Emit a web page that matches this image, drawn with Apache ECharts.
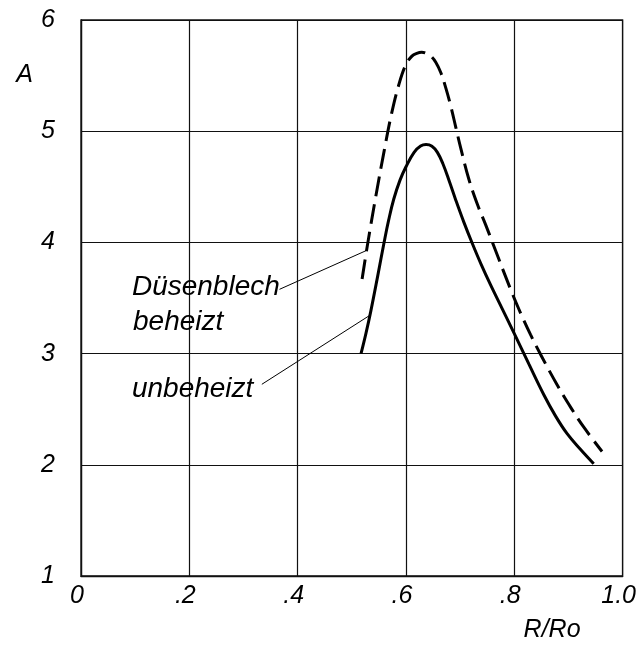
<!DOCTYPE html>
<html>
<head>
<meta charset="utf-8">
<script src="https://cdn.jsdelivr.net/npm/echarts@6/dist/echarts.min.js"></script>
<style>
  html, body { margin: 0; padding: 0; background: #fff; }
  #chart { width: 639px; height: 646px; }
</style>
</head>
<body>
<div id="chart"></div>
<script>
// Amplification A over relative radius R/Ro, with and without a heated nozzle plate
const xTickLabels = ['0', '.2', '.4', '.6', '.8', '1.0'];
const yTickLabels = ['1', '2', '3', '4', '5', '6'];

// heated nozzle plate (dashed)
const beheiztX = [0.519, 0.529, 0.5445, 0.560, 0.5735, 0.5875, 0.600, 0.611, 0.620, 0.629, 0.638, 0.646, 0.655, 0.664, 0.6735, 0.683, 0.692, 0.701, 0.716, 0.732, 0.747, 0.762, 0.793, 0.812, 0.830, 0.851, 0.879, 0.905, 0.928, 0.962];
const beheiztY = [3.67, 3.98, 4.42, 4.83, 5.16, 5.43, 5.60, 5.675, 5.70, 5.71, 5.70, 5.675, 5.62, 5.53, 5.39, 5.22, 5.035, 4.85, 4.57, 4.34, 4.16, 3.97, 3.58, 3.36, 3.17, 2.97, 2.72, 2.51, 2.34, 2.12];

// unheated (solid)
const unbeheiztX = [0.517, 0.526, 0.535, 0.5475, 0.560, 0.568, 0.5775, 0.589, 0.600, 0.615, 0.627, 0.637, 0.648, 0.658, 0.668, 0.680, 0.692, 0.707, 0.7225, 0.739, 0.756, 0.778, 0.800, 0.827, 0.8545, 0.876, 0.8975, 0.922, 0.9466];
const unbeheiztY = [3.00, 3.18, 3.38, 3.69, 4.01, 4.20, 4.39, 4.56, 4.68, 4.81, 4.866, 4.88, 4.865, 4.81, 4.71, 4.55, 4.38, 4.18, 3.99, 3.80, 3.62, 3.40, 3.18, 2.905, 2.63, 2.44, 2.28, 2.14, 2.01];

// annotation texts and their leader lines (data units)
const noteTexts = ['Düsenblech', 'beheizt', 'unbeheizt'];
const noteX = [0.094, 0.096, 0.094];
const noteY = [3.60, 3.285, 2.68];
const leaderBeheizt = [[0.3665, 3.578], [0.526, 3.925]];
const leaderUnbeheizt = [[0.3339, 2.724], [0.5335, 3.345]];

const zip = (xs, ys) => xs.map((x, i) => [x, ys[i]]);
const FONT = 'Liberation Sans';
const INK = '#000';

const chart = echarts.init(document.getElementById('chart'), null, { renderer: 'canvas' });
chart.setOption({
  backgroundColor: '#ffffff',
  animation: false,
  grid: { left: 81, right: 15, top: 20, bottom: 70, show: true, borderColor: '#111', borderWidth: 1.3 },
  xAxis: {
    type: 'value', min: 0, max: 1, interval: 0.2,
    name: 'R/Ro', nameLocation: 'end', nameGap: -99,
    nameTextStyle: { fontFamily: FONT, fontStyle: 'italic', fontSize: 25, color: INK, align: 'left', verticalAlign: 'top', padding: [42, 0, 0, 0] },
    axisLine: { show: true, lineStyle: { color: '#111', width: 1.3 } },
    axisTick: { show: false },
    splitLine: { show: true, lineStyle: { color: '#111', width: 1.2 } },
    axisLabel: {
      margin: 8, fontFamily: FONT, fontStyle: 'italic', fontSize: 25, color: INK,
      padding: [0, 8, 0, 0],
      formatter: v => xTickLabels[Math.round(v / 0.2)]
    }
  },
  yAxis: {
    type: 'value', min: 1, max: 6, interval: 1,
    name: 'A', nameLocation: 'end', nameGap: -55,
    nameTextStyle: { fontFamily: FONT, fontStyle: 'italic', fontSize: 25, color: INK, align: 'right', verticalAlign: 'middle', padding: [0, 48, 0, 0] },
    axisLine: { show: true, lineStyle: { color: '#111', width: 1.3 } },
    axisTick: { show: false },
    splitLine: { show: true, lineStyle: { color: '#111', width: 1.2 } },
    axisLabel: {
      margin: 26, fontFamily: FONT, fontStyle: 'italic', fontSize: 25, color: INK,
      formatter: v => yTickLabels[Math.round(v) - 1]
    }
  },
  series: [
    {
      name: 'beheizt', type: 'line', data: zip(beheiztX, beheiztY),
      smooth: 0.4, showSymbol: false, symbol: 'none',
      lineStyle: { color: INK, width: 3, type: [20, 8] }
    },
    {
      name: 'unbeheizt', type: 'line', data: zip(unbeheiztX, unbeheiztY),
      smooth: 0.4, showSymbol: false, symbol: 'none',
      lineStyle: { color: INK, width: 3 }
    },
    {
      name: 'leader-beheizt', type: 'line', data: leaderBeheizt,
      showSymbol: false, symbol: 'none', lineStyle: { color: INK, width: 1 }
    },
    {
      name: 'leader-unbeheizt', type: 'line', data: leaderUnbeheizt,
      showSymbol: false, symbol: 'none', lineStyle: { color: INK, width: 1 }
    },
    {
      name: 'notes', type: 'scatter', symbolSize: 0, silent: true,
      itemStyle: { opacity: 1, color: INK },
      data: noteTexts.map((t, i) => ({ value: [noteX[i], noteY[i]], name: t })),
      label: {
        show: true, position: 'inside', align: 'left', verticalAlign: 'middle',
        formatter: p => p.name, opacity: 1,
        fontFamily: FONT, fontStyle: 'italic', fontSize: 28, color: INK
      }
    }
  ]
});
</script>
</body>
</html>
